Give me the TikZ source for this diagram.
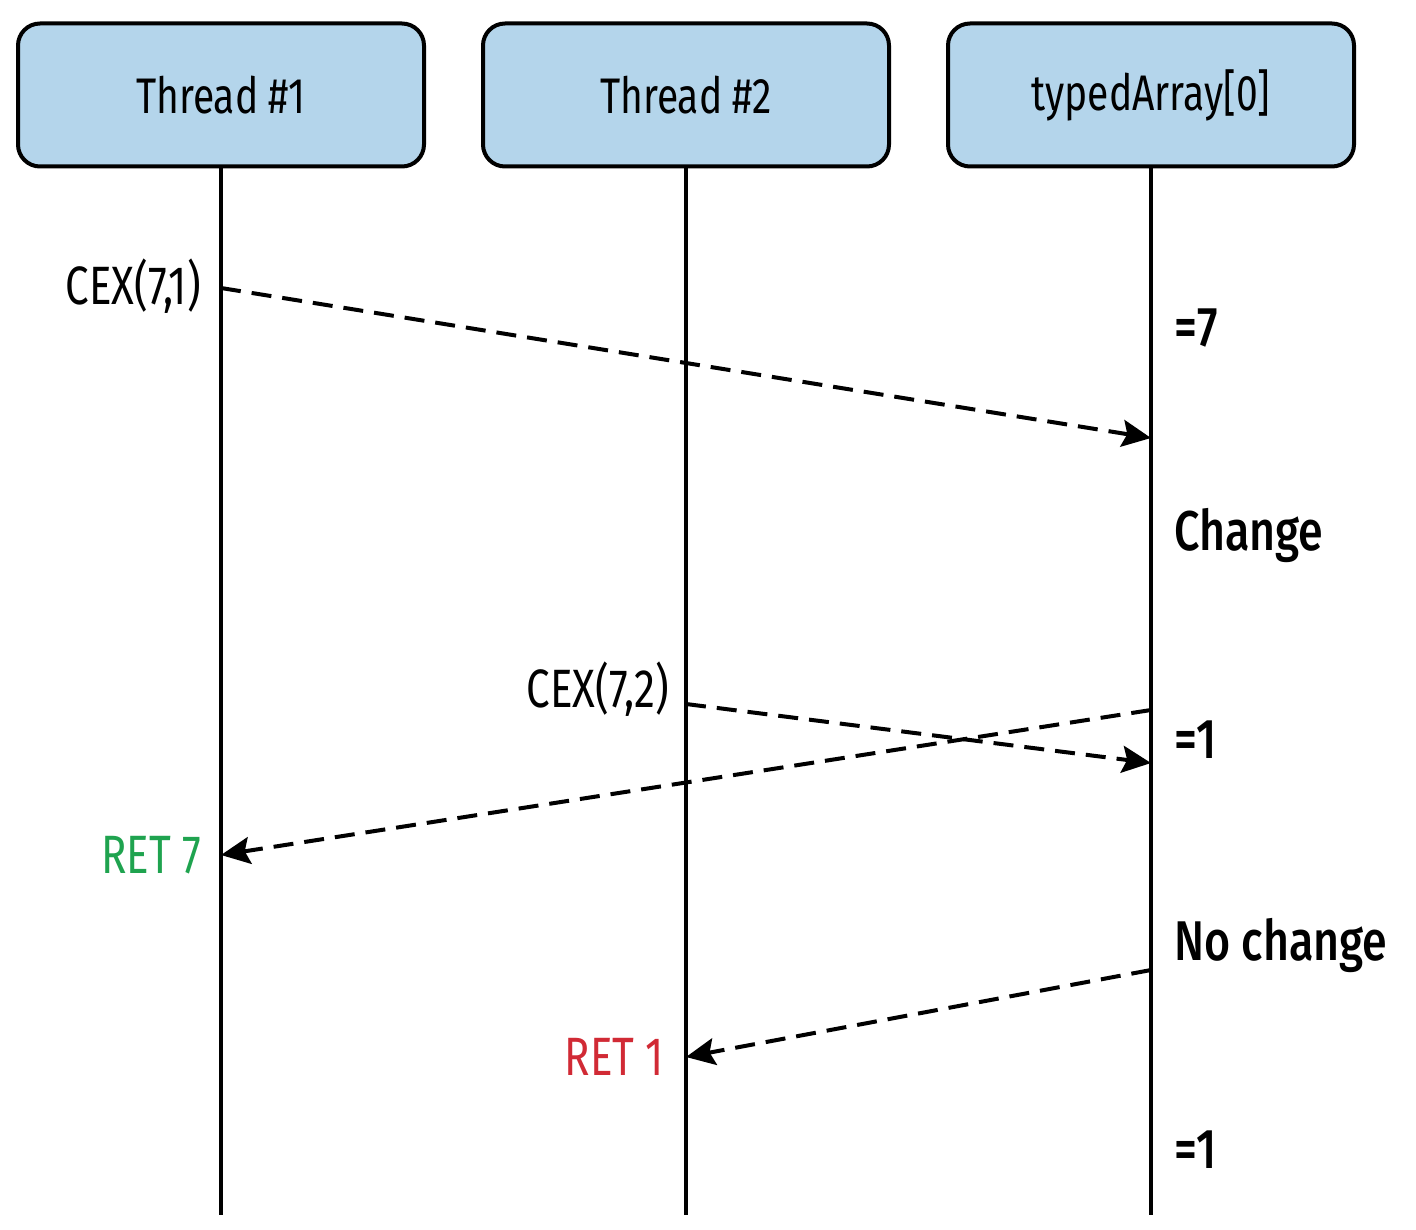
\documentclass[tikz,border=0pt]{standalone}
\usepackage{fontspec}
\setmainfont{Fira Sans}[FakeStretch=0.78]
\newfontfamily\notefont{Fira Sans Medium}[FakeStretch=0.8]
\usepackage{tikz}
\usetikzlibrary{arrows.meta,positioning}

\definecolor{boxblue}{HTML}{B4D5EB}
\definecolor{retgreen}{HTML}{1FA34F}
\definecolor{retred}{HTML}{D12A35}

\tikzset{
  header/.style={draw, line width=4pt, rounded corners=22pt, fill=boxblue,
    minimum width=406pt, minimum height=143pt, font=\fontsize{50}{54}\selectfont},
  lifeline/.style={line width=4pt},
  msg/.style={line width=4pt, dash pattern=on 20pt off 11pt,
    -{Stealth[length=29pt,width=27pt,inset=5pt]}},
  note/.style={font=\fontsize{54}{58}\selectfont, inner sep=0pt},
  state/.style={font=\notefont\fontsize{56}{58}\selectfont, inner sep=0pt}
}

\begin{document}
\begin{tikzpicture}[x=1pt,y=-1pt]
  \useasboundingbox (0,0) rectangle (1416,1230);
  % the three lifelines and their heads
  \node[header] (thread1) at (221,95) {Thread \#1};
  \node[header] (thread2) [right=55pt of thread1] {Thread \#2};
  \node[header] (arr) [right=55pt of thread2] {typedArray[0]};
  \coordinate (end1) at (thread1.south |- 0,1215);
  \coordinate (end2) at (thread2.south |- 0,1215);
  \coordinate (end3) at (arr.south |- 0,1215);
  \draw[lifeline] (thread1.south) -- (end1);
  \draw[lifeline] (thread2.south) -- (end2);
  \draw[lifeline] (arr.south) -- (end3);
  % points on the lifelines
  \coordinate (cex1) at (thread1.south |- 0,288);
  \coordinate (hit1) at (arr.south |- 0,438);
  \coordinate (cex2) at (thread2.south |- 0,704);
  \coordinate (hit2) at (arr.south |- 0,763);
  \coordinate (back1) at (arr.south |- 0,710);
  \coordinate (ret7) at (thread1.south |- 0,855);
  \coordinate (back2) at (arr.south |- 0,970);
  \coordinate (ret1) at (thread2.south |- 0,1057);
  % calls and returns
  \draw[msg] (cex1) -- (hit1);
  \draw[msg] (cex2) -- (hit2);
  \draw[msg] (back1) -- (ret7);
  \draw[msg] (back2) -- (ret1);
  \node[note, anchor=east] (cexlabel1) at ([xshift=-20pt,yshift=2pt]cex1) {CEX(7,1)};
  \node[note, anchor=east] (cexlabel2) at ([xshift=-17pt,yshift=15pt]cex2) {CEX(7,2)};
  \node[note, anchor=east, text=retgreen] (retlabel7) at ([xshift=-20pt]ret7) {RET 7};
  \node[note, anchor=east, text=retred] (retlabel1) at ([xshift=-22pt]ret1) {RET 1};
  % values held by typedArray[0]
  \node[state, anchor=west] (val1) at ([xshift=23pt]arr.south |- 0,328) {=7};
  \node[state, anchor=west] (state1) at ([xshift=23pt]arr.south |- 0,536) {Change};
  \node[state, anchor=west] (val2) at ([xshift=23pt]arr.south |- 0,740) {=1};
  \node[state, anchor=west] (state2) at ([xshift=23pt]arr.south |- 0,946) {No change};
  \node[state, anchor=west] (val3) at ([xshift=23pt]arr.south |- 0,1150) {=1};
\end{tikzpicture}
\end{document}
